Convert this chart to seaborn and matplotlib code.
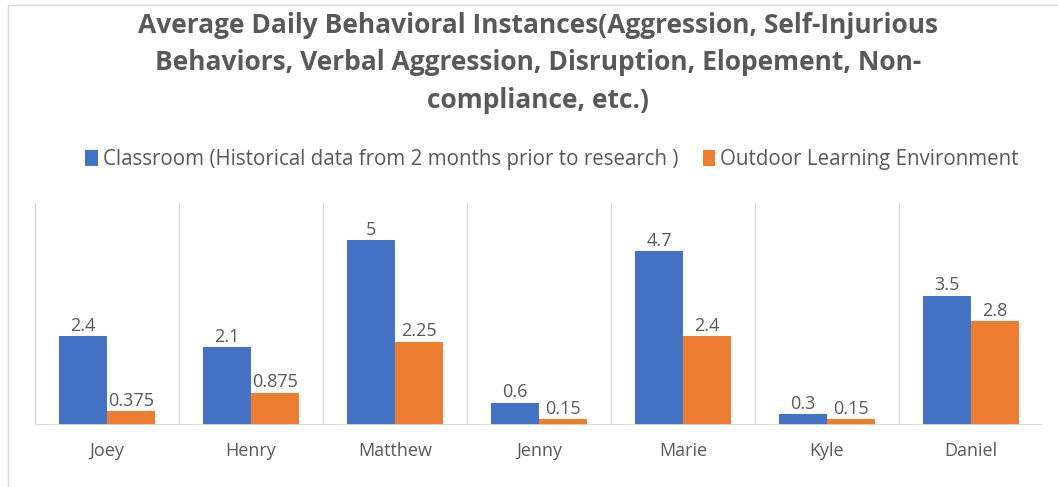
import matplotlib
matplotlib.use("Agg")
import matplotlib.pyplot as plt
import seaborn as sns
import pandas as pd
from matplotlib.patches import Rectangle

students = ["Joey", "Henry", "Matthew", "Jenny", "Marie", "Kyle", "Daniel"]
classroom = [2.4, 2.1, 5, 0.6, 4.7, 0.3, 3.5]
outdoor = [0.375, 0.875, 2.25, 0.15, 2.4, 0.15, 2.8]
series_names = ["Classroom (Historical data from 2 months prior to research )",
                "Outdoor Learning Environment"]
label_texts_classroom = ["2.4", "2.1", "5", "0.6", "4.7", "0.3", "3.5"]
label_texts_outdoor = ["0.375", "0.875", "2.25", "0.15", "2.4", "0.15", "2.8"]
title = ("Average Daily Behavioral Instances(Aggression, Self-Injurious\n"
         "Behaviors, Verbal Aggression, Disruption, Elopement, Non-\n"
         "compliance, etc.)")

df = pd.DataFrame({
    "student": students * 2,
    "value": classroom + outdoor,
    "series": [series_names[0]] * len(students) + [series_names[1]] * len(students),
})

sns.set_theme(style="white")
plt.rcParams["font.family"] = ["Open Sans", "DejaVu Sans"]
gray = "#595959"

fig = plt.figure(figsize=(10.58, 4.87), dpi=100)
ax = fig.add_axes([35 / 1058, 1 - 425 / 487, (1043 - 35) / 1058, (425 - 203) / 487])

palette = {series_names[0]: "#4472C4", series_names[1]: "#ED7D31"}
sns.barplot(data=df, x="student", y="value", hue="series", hue_order=series_names,
            order=students, palette=palette, width=0.667, gap=0, saturation=1,
            edgecolor="none", linewidth=0, ax=ax, legend=True)

ax.set_ylim(0, 6)
ax.set_xlim(-0.5, len(students) - 0.5)
ax.set_yticks([])
ax.set_xlabel("")
ax.set_ylabel("")
for s in ax.spines.values():
    s.set_visible(False)
ax.axhline(0, color="#D9D9D9", lw=1.3, zorder=3)
for i in range(len(students)):
    ax.axvline(i - 0.5, color="#D9D9D9", lw=1.0, zorder=0)

ax.tick_params(axis="x", length=0, pad=12, labelsize=13, labelcolor=gray)

for cont, labels in zip(ax.containers, [label_texts_classroom, label_texts_outdoor]):
    ax.bar_label(cont, labels=labels, padding=1, fontsize=13, color=gray)

h, l = ax.get_legend_handles_labels()
ax.legend_.remove()
fig.legend(h, l, loc="center", bbox_to_anchor=(552 / 1058, 1 - 160 / 487), ncol=2,
           frameon=False, fontsize=14.8, labelcolor=gray, handlelength=0.6,
           handleheight=0.8, handletextpad=0.25, columnspacing=1.2)

fig.text(538 / 1058, 1 - 63 / 487, title, ha="center", va="center", fontsize=19,
         fontweight="bold", color=gray, linespacing=1.5)

fig.add_artist(Rectangle((8 / 1058, -0.01), 1.02, 1 - 5 / 487 + 0.01, transform=fig.transFigure,
                         fill=False, edgecolor="#D9D9D9", lw=1.0))

fig.savefig("out.png", dpi=100)
